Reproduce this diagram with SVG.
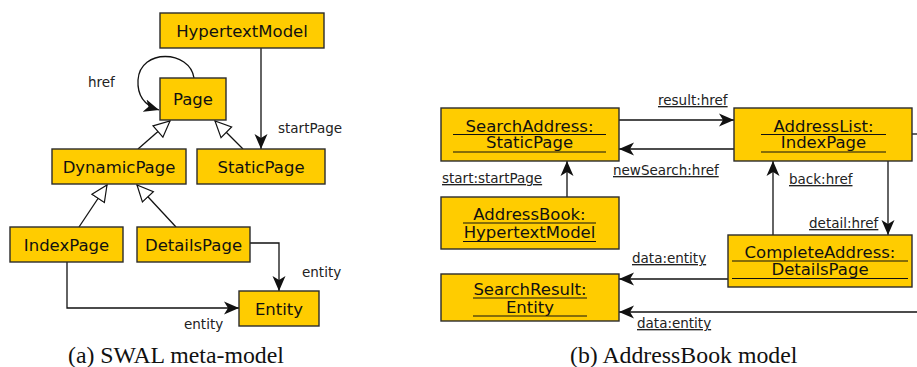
<svg xmlns="http://www.w3.org/2000/svg" width="917" height="367" viewBox="0 0 917 367">
<style>
.box{fill:#FFCC00;stroke:#2b2b2b;stroke-width:1.4}
.nt{font-family:"DejaVu Sans",Verdana,sans-serif;font-size:16.5px;fill:#111;text-anchor:middle}
.lb{font-family:"DejaVu Sans",Verdana,sans-serif;font-size:13.5px;fill:#222}
.ul{text-decoration:underline}
.ln{stroke:#111;stroke-width:1.3;fill:none}
.u{stroke:#111;stroke-width:1.2}
.cap{font-family:"Liberation Serif","Times New Roman",serif;font-size:23.8px;fill:#111}
</style>
<defs>
<marker id="arr" viewBox="0 -7 16 14" refX="15" refY="0" markerWidth="16" markerHeight="14" markerUnits="userSpaceOnUse" orient="auto">
<path d="M0,-6.5 L15,0 L0,6.5 L4,0 z" fill="#111"/>
</marker>
<marker id="tri" viewBox="-1 -9 18 18" refX="16" refY="0" markerWidth="18" markerHeight="18" markerUnits="userSpaceOnUse" orient="auto">
<path d="M0,-7.5 L16,0 L0,7.5 z" fill="#fff" stroke="#111" stroke-width="1.2"/>
</marker>
</defs>

<g id="connectors">
<path class="ln" d="M261,48 V149" marker-end="url(#arr)"/>
<path class="ln" d="M194,78 C190,50 140,48 138,80 C137,98 146,106 159,110" marker-end="url(#arr)"/>
<path class="ln" d="M138,149 L170,121" marker-end="url(#tri)"/>
<path class="ln" d="M243,149 L215,121" marker-end="url(#tri)"/>
<path class="ln" d="M79,227 L107,185" marker-end="url(#tri)"/>
<path class="ln" d="M176,227 L137,185" marker-end="url(#tri)"/>
<path class="ln" d="M250,243 H279 V291" marker-end="url(#arr)"/>
<path class="ln" d="M67,262 V308 H239" marker-end="url(#arr)"/>

<path class="ln" d="M619,120 H734" marker-end="url(#arr)"/>
<path class="ln" d="M734,149 H619" marker-end="url(#arr)"/>
<path class="ln" d="M567,197 V161" marker-end="url(#arr)"/>
<path class="ln" d="M773,235 V161" marker-end="url(#arr)"/>
<path class="ln" d="M888,161 V235" marker-end="url(#arr)"/>
<path class="ln" d="M728,279 H619" marker-end="url(#arr)"/>
<path class="ln" d="M917,312 H619" marker-end="url(#arr)"/>
<path class="ln" d="M912,134 H917"/>

<text class="lb" x="278" y="133">startPage</text>
<text class="lb" x="88" y="87">href</text>
<text class="lb" x="302" y="277">entity</text>
<text class="lb" x="184" y="329">entity</text>

<text class="lb ul" x="658" y="105">result:href</text>
<text class="lb ul" x="613" y="175">newSearch:href</text>
<text class="lb ul" x="442" y="183">start:startPage</text>
<text class="lb ul" x="789" y="184">back:href</text>
<text class="lb ul" x="809" y="228">detail:href</text>
<text class="lb ul" x="632" y="263">data:entity</text>
<text class="lb ul" x="637" y="328">data:entity</text>
</g>

<g id="HypertextModel"><rect class="box" x="160" y="13" width="164" height="35"/><text class="nt" x="242" y="36.5">HypertextModel</text></g>
<g id="Page"><rect class="box" x="160" y="78" width="66" height="42"/><text class="nt" x="193" y="105">Page</text></g>
<g id="DynamicPage"><rect class="box" x="52" y="149" width="134" height="35"/><text class="nt" x="119" y="172.5">DynamicPage</text></g>
<g id="StaticPage"><rect class="box" x="197" y="149" width="128" height="35"/><text class="nt" x="261" y="172.5">StaticPage</text></g>
<g id="IndexPage"><rect class="box" x="10" y="227" width="113" height="35"/><text class="nt" x="66.5" y="250.5">IndexPage</text></g>
<g id="DetailsPage"><rect class="box" x="137" y="227" width="113" height="35"/><text class="nt" x="193.5" y="250.5">DetailsPage</text></g>
<g id="Entity"><rect class="box" x="239" y="291" width="80" height="35"/><text class="nt" x="279" y="314.5">Entity</text></g>

<g id="SearchAddress"><rect class="box" x="441" y="108" width="178" height="53"/>
<text class="nt" x="529.5" y="131.5">SearchAddress:</text><line class="u" x1="453" y1="134.5" x2="606" y2="134.5"/>
<text class="nt" x="529.5" y="148">StaticPage</text><line class="u" x1="453" y1="152" x2="606" y2="152"/></g>
<g id="AddressBook"><rect class="box" x="441" y="197" width="178" height="52"/>
<text class="nt" x="529.5" y="219.5">AddressBook:</text><line class="u" x1="463" y1="223" x2="596" y2="223"/>
<text class="nt" x="529.5" y="237.5">HypertextModel</text><line class="u" x1="463" y1="241.5" x2="596" y2="241.5"/></g>
<g id="AddressList"><rect class="box" x="734" y="108" width="178" height="53"/>
<text class="nt" x="823.5" y="131.5">AddressList:</text><line class="u" x1="761" y1="134.5" x2="886" y2="134.5"/>
<text class="nt" x="823.5" y="148">IndexPage</text><line class="u" x1="761" y1="152" x2="886" y2="152"/></g>
<g id="CompleteAddress"><rect class="box" x="728" y="235" width="184" height="52"/>
<text class="nt" x="820" y="257.5">CompleteAddress:</text><line class="u" x1="732" y1="261" x2="908" y2="261"/>
<text class="nt" x="820" y="274.5">DetailsPage</text><line class="u" x1="732" y1="278.5" x2="908" y2="278.5"/></g>
<g id="SearchResult"><rect class="box" x="441" y="274" width="178" height="47"/>
<text class="nt" x="530" y="294.5">SearchResult:</text><line class="u" x1="473" y1="298" x2="587" y2="298"/>
<text class="nt" x="530" y="312.5">Entity</text><line class="u" x1="473" y1="316" x2="587" y2="316"/></g>

<text class="cap" x="68" y="363">(a) SWAL meta-model</text>
<text class="cap" x="570" y="363">(b) AddressBook model</text>
</svg>
